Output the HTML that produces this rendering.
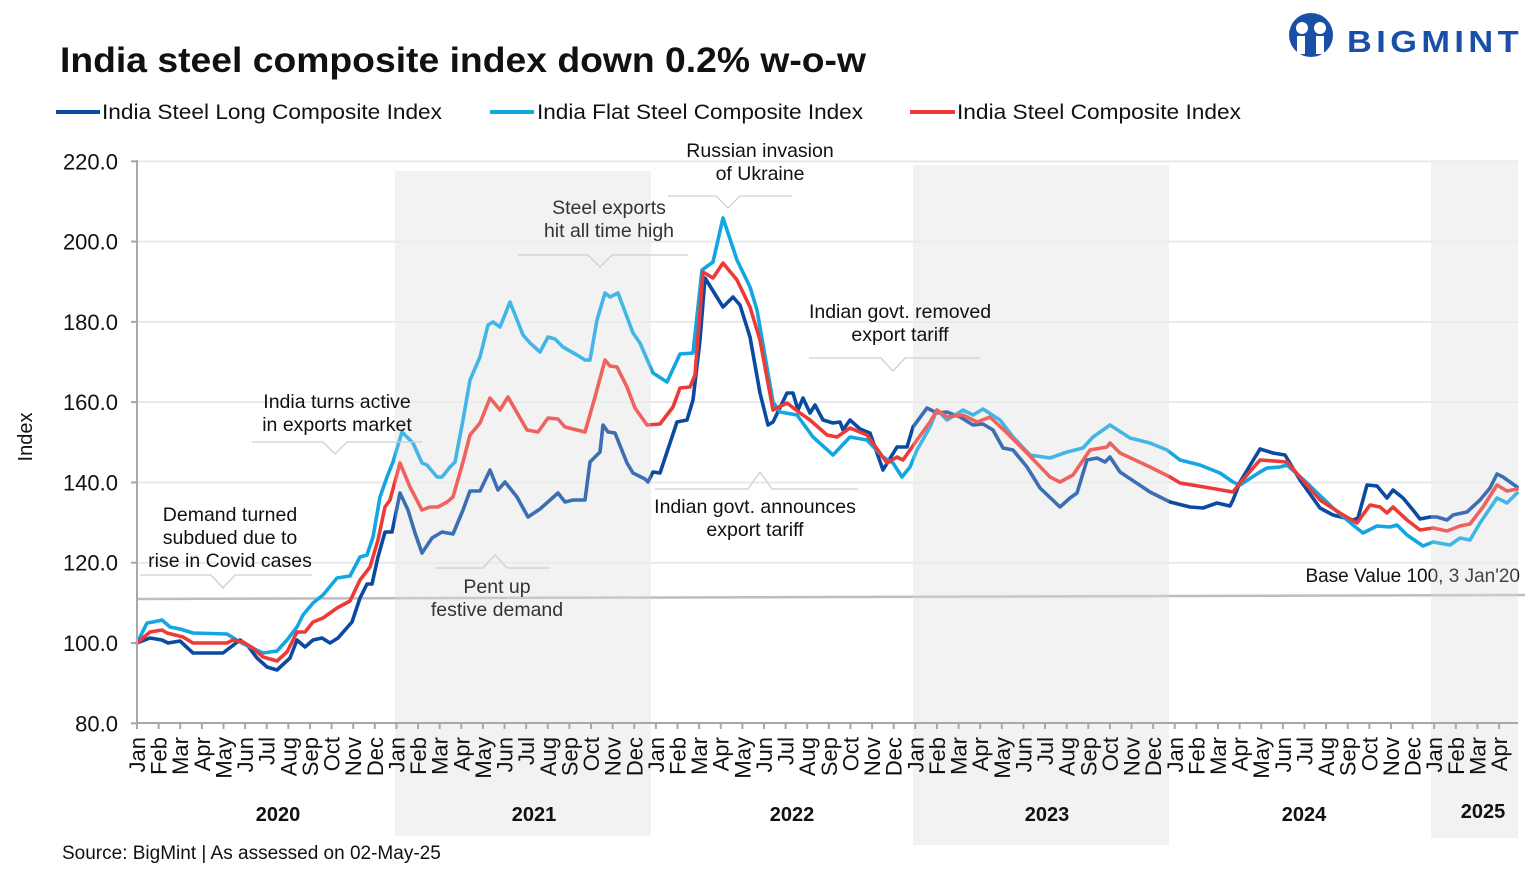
<!DOCTYPE html>
<html><head><meta charset="utf-8"><style>
html,body{margin:0;padding:0;background:#fff;}
svg{display:block;font-family:"Liberation Sans",sans-serif;}
</style></head><body>
<svg id="s" width="1540" height="880" viewBox="0 0 1540 880" xmlns="http://www.w3.org/2000/svg">
<rect width="1540" height="880" fill="#fff"/>
<rect x="395" y="171" width="256" height="665" fill="#f3f3f3"/>
<rect x="913" y="165" width="256" height="680" fill="#f3f3f3"/>
<rect x="1431" y="160" width="87" height="678" fill="#f3f3f3"/>
<g id="grid" stroke="#e9e9e9" stroke-width="2"></g>
<line x1="137" y1="599" x2="1525" y2="595" stroke="#bdbdbd" stroke-width="2.5"/>
<text x="1520" y="582" font-size="19" text-anchor="end" fill="#111">Base Value 100, 3 Jan'20</text>
<g fill="none" stroke-width="3.6" stroke-linejoin="round" stroke-linecap="round">
<polyline stroke="#0a4aa0" points="137,643 150,638 162,640 168,643 180,641 193,653 223,653 240,640 248,646 257,658 267,667 277,670 290,658 297,640 305,647 313,640 322,638 330,643 338,638 352,622 360,598 367,584 372,584 378,557 385,532 392,532 400,493 408,510 415,533 422,553 432,538 442,532 453,534 463,510 470,491 480,491 490,470 498,490 505,482 517,497 528,517 540,509 558,493 565,502 573,500 585,500 590,462 600,452 603,425 608,432 615,433 627,463 633,473 645,479 648,482 653,472 660,473 677,422 687,420 693,400 700,340 705,278 723,307 733,297 740,305 750,337 760,393 768,425 773,422 787,393 793,393 798,410 803,398 810,413 815,405 823,420 833,423 840,422 843,430 850,420 860,429 870,433 883,470 897,447 907,447 913,427 927,408 937,413 947,412 960,417 973,425 983,424 993,430 1003,448 1013,450 1027,467 1040,488 1060,507 1070,498 1077,493 1087,460 1097,458 1105,462 1110,457 1120,472 1150,492 1170,502 1190,507 1203,508 1217,503 1230,506 1233,500 1240,482 1260,449 1273,453 1285,455 1300,480 1320,508 1333,515 1353,520 1358,518 1367,485 1377,486 1387,498 1393,490 1403,498 1413,510 1420,519 1430,517 1437,517 1447,520 1453,515 1467,512 1480,500 1490,488 1497,474 1503,477 1517,487"/>
<polyline stroke="#12a6e2" points="137,643 147,623 153,622 162,620 170,627 180,629 193,633 227,634 240,642 250,647 263,653 277,651 287,640 297,627 303,615 313,603 323,595 337,578 350,576 360,557 367,555 373,537 380,497 387,477 393,462 402,432 413,443 422,463 427,465 437,477 442,477 450,467 455,462 463,420 470,380 480,357 488,325 493,322 500,327 510,302 523,335 530,343 540,352 548,337 555,339 563,347 577,355 585,360 590,360 597,320 605,293 610,297 618,293 633,333 640,343 653,373 667,382 680,354 693,353 702,270 713,262 723,218 737,260 750,287 757,310 773,402 780,412 797,415 813,437 833,455 850,437 867,440 883,457 893,463 902,477 910,467 917,450 930,427 937,410 947,420 963,410 973,415 983,409 1000,420 1013,437 1030,455 1050,458 1067,452 1083,448 1093,437 1110,425 1130,438 1150,443 1167,450 1180,460 1200,465 1220,473 1233,482 1240,485 1260,472 1267,468 1280,467 1287,465 1307,483 1333,508 1353,525 1363,533 1377,526 1390,527 1397,525 1407,535 1423,546 1433,542 1450,545 1460,538 1470,540 1480,523 1497,498 1507,503 1517,493"/>
<polyline stroke="#ee3a37" points="137,643 150,632 162,630 167,633 183,637 193,643 227,643 233,640 243,642 253,648 263,657 277,661 287,652 297,632 305,632 313,622 323,618 337,608 350,601 360,580 370,567 378,540 385,507 390,500 400,463 410,487 422,510 430,507 438,507 447,502 453,497 463,462 470,435 480,423 490,398 500,410 508,397 527,430 538,432 548,418 558,419 565,427 577,430 585,432 595,397 605,360 610,366 617,367 627,387 635,408 647,425 660,424 673,407 680,388 690,387 695,375 703,272 713,278 723,263 737,280 750,307 760,340 773,410 787,403 800,413 810,420 827,435 837,437 850,428 867,435 880,453 887,463 897,457 903,460 917,440 930,422 937,410 947,417 963,415 977,422 990,417 1007,433 1027,453 1050,477 1060,482 1073,475 1090,450 1107,447 1110,443 1120,453 1150,467 1170,477 1180,483 1210,488 1233,492 1240,483 1260,460 1287,462 1300,477 1320,500 1340,513 1357,523 1370,505 1380,507 1387,513 1393,507 1407,520 1420,530 1433,528 1447,531 1460,526 1470,524 1483,507 1497,485 1507,491 1517,489"/>
</g>
<rect x="395" y="171" width="256" height="665" fill="#f3f3f3" opacity="0.22"/>
<rect x="913" y="165" width="256" height="680" fill="#f3f3f3" opacity="0.22"/>
<rect x="1431" y="160" width="87" height="678" fill="#f3f3f3" opacity="0.22"/>
<line x1="137" y1="160" x2="137" y2="723" stroke="#a8a8a8" stroke-width="2"/>
<line x1="137" y1="723" x2="1518" y2="723" stroke="#a8a8a8" stroke-width="2"/>
<g id="ax" font-size="22" fill="#111"></g>
<text transform="translate(32,437) rotate(-90)" font-size="20" text-anchor="middle" fill="#111">Index</text>
<g fill="none" stroke="#cfcfcf" stroke-width="1.3">
<polyline points="140,575 211,575 223,588 235,575 312,575"/>
<polyline points="252,442 323,442 335,454 347,442 422,442"/>
<polyline points="435,568 483,568 495,555 507,568 550,568"/>
<polyline points="518,255 588,255 600,267 612,255 688,255"/>
<polyline points="668,196 716,196 728,208 740,196 792,196"/>
<polyline points="809,358 881,358 893,371 905,358 980,358"/>
<polyline points="655,489 748,489 760,472 772,489 858,489"/>
</g>
<g font-size="19.5" fill="#111" text-anchor="middle">
<text x="230" y="521">Demand turned</text>
<text x="230" y="544">subdued due to</text>
<text x="230" y="567">rise in Covid cases</text>
<text x="337" y="408">India turns active</text>
<text x="337" y="431">in exports market</text>
<text x="497" y="593" fill="#333">Pent up</text>
<text x="497" y="616" fill="#333">festive demand</text>
<text x="609" y="214" fill="#333">Steel exports</text>
<text x="609" y="237" fill="#333">hit all time high</text>
<text x="760" y="157">Russian invasion</text>
<text x="760" y="180">of Ukraine</text>
<text x="900" y="318">Indian govt. removed</text>
<text x="900" y="341">export tariff</text>
<text x="755" y="513">Indian govt. announces</text>
<text x="755" y="536">export tariff</text>
</g>
<text x="60" y="72" font-size="35" font-weight="bold" fill="#111" textLength="806" lengthAdjust="spacingAndGlyphs">India steel composite index down 0.2% w-o-w</text>
<g stroke-width="4">
<line x1="56" y1="112" x2="100" y2="112" stroke="#0a4aa0"/>
<line x1="490" y1="112" x2="534" y2="112" stroke="#12a6e2"/>
<line x1="910" y1="112" x2="955" y2="112" stroke="#ee3a37"/>
</g>
<g font-size="21" fill="#111">
<text x="102" y="119" textLength="340" lengthAdjust="spacingAndGlyphs">India Steel Long Composite Index</text>
<text x="537" y="119" textLength="326" lengthAdjust="spacingAndGlyphs">India Flat Steel Composite Index</text>
<text x="957" y="119" textLength="284" lengthAdjust="spacingAndGlyphs">India Steel Composite Index</text>
</g>
<text x="62" y="859" font-size="19" fill="#111">Source: BigMint | As assessed on 02-May-25</text>
<g fill="#1a4fa8">
<circle cx="1311" cy="35" r="22"/>
<circle cx="1302" cy="28" r="6" fill="#fff"/>
<circle cx="1320" cy="28" r="6" fill="#fff"/>
<rect x="1297" y="36" width="8" height="18" fill="#fff"/>
<rect x="1316" y="36" width="8" height="18" fill="#fff"/>
<text x="1347" y="52" font-size="31" font-weight="bold" letter-spacing="4" textLength="176" lengthAdjust="spacingAndGlyphs">BIGMINT</text>
</g>
</svg>
<script>
var NS="http://www.w3.org/2000/svg";
var g=document.getElementById('grid');
function y(v){return 643-(v-100)*4.014;}
[120,140,160,180,200,220].forEach(function(v){
 var l=document.createElementNS(NS,'line');l.setAttribute('x1',137);l.setAttribute('x2',1518);
 l.setAttribute('y1',y(v));l.setAttribute('y2',y(v));g.appendChild(l);});
var ax=document.getElementById('ax');
[80,100,120,140,160,180,200,220].forEach(function(v){
 var t=document.createElementNS(NS,'text');t.setAttribute('x',118);t.setAttribute('y',y(v)+8);
 t.setAttribute('text-anchor','end');t.textContent=v.toFixed(1);ax.appendChild(t);
 var l=document.createElementNS(NS,'line');l.setAttribute('x1',131);l.setAttribute('x2',137);
 l.setAttribute('y1',y(v));l.setAttribute('y2',y(v));l.setAttribute('stroke','#a8a8a8');l.setAttribute('stroke-width','2');ax.appendChild(l);});
var m=['Jan','Feb','Mar','Apr','May','Jun','Jul','Aug','Sep','Oct','Nov','Dec'];
for(var i=0;i<64;i++){
 var x=137+21.62*i;
 var t=document.createElementNS(NS,'text');
 t.setAttribute('transform','translate('+(x+8)+',737) rotate(-90)');
 t.setAttribute('text-anchor','end');t.textContent=m[i%12];ax.appendChild(t);
 var l=document.createElementNS(NS,'line');l.setAttribute('x1',x);l.setAttribute('x2',x);
 l.setAttribute('y1',723);l.setAttribute('y2',729);l.setAttribute('stroke','#a8a8a8');l.setAttribute('stroke-width','2');ax.appendChild(l);
}
[[278,821,'2020'],[534,821,'2021'],[792,821,'2022'],[1047,821,'2023'],[1304,821,'2024'],[1483,818,'2025']].forEach(function(a){
 var t=document.createElementNS(NS,'text');t.setAttribute('x',a[0]);t.setAttribute('y',a[1]);
 t.setAttribute('text-anchor','middle');t.setAttribute('font-weight','bold');t.setAttribute('font-size','20');t.textContent=a[2];ax.appendChild(t);});
</script>
</body></html>
